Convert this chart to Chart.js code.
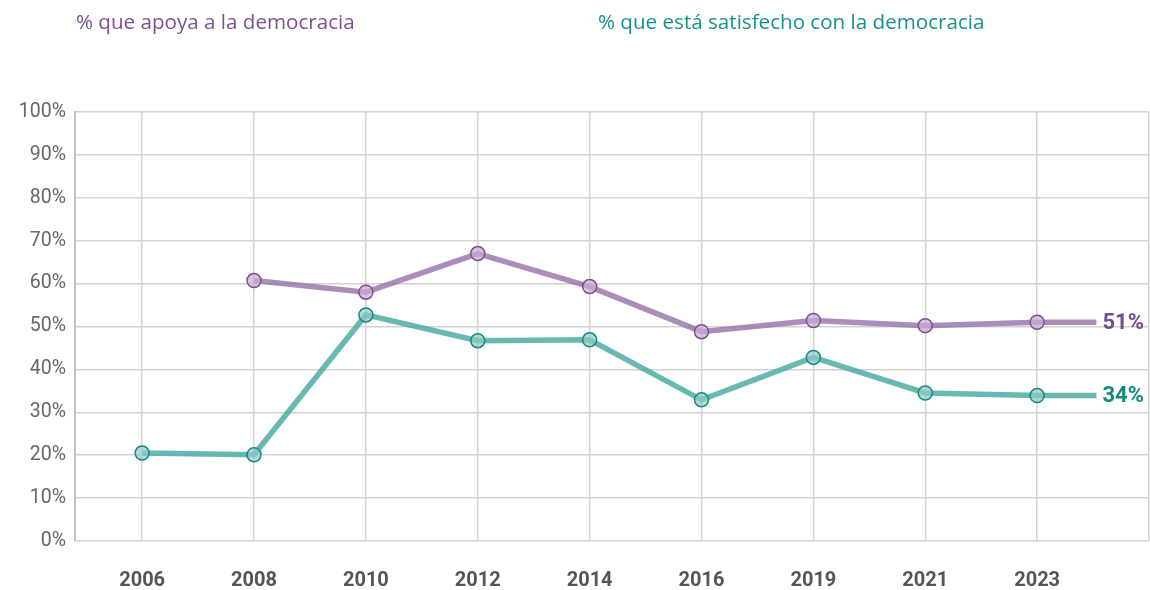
<!DOCTYPE html>
<html>
<head>
<meta charset="utf-8">
<script src="https://cdn.jsdelivr.net/npm/chart.js@4"></script>
<style>
  html, body { margin: 0; padding: 0; background: #fff; }
  #wrap { position: relative; width: 1150px; height: 590px; }
  canvas { position: absolute; left: 0; top: 0; }
  .ttl { position: absolute; top: 7px; font-family: "Open Sans", sans-serif; font-size: 20.6px; white-space: nowrap; }
</style>
</head>
<body>
<div id="wrap">
  <canvas id="c" width="1150" height="590"></canvas>
  <div class="ttl" id="t1" style="left:76px;color:#7d5093;"></div>
  <div class="ttl" id="t2" style="left:598px;color:#17918a;"></div>
</div>
<script>
const years = ['2006','2008','2010','2012','2014','2016','2019','2021','2023'];
const apoya = [null, 60.7, 58.0, 67.0, 59.3, 48.8, 51.4, 50.2, 51.0];
const satisfecho = [20.5, 20.1, 52.7, 46.7, 46.9, 32.9, 42.8, 34.5, 33.9];
const seriesNames = ['% que apoya a la democracia', '% que está satisfecho con la democracia'];
const yTicks = [0,10,20,30,40,50,60,70,80,90,100];

document.getElementById('t1').textContent = seriesNames[0];
document.getElementById('t2').textContent = seriesNames[1];

function toPoints(arr) {
  const pts = arr.map((v, i) => ({x: i, y: v}));
  const last = arr[arr.length - 1];
  pts.push({x: arr.length - 1 + 0.53, y: last, ext: true});
  return pts;
}

const purpleLine = 'rgba(150,112,168,0.8)';
const purpleDark = '#7d4f90';
const tealLine = 'rgba(80,172,165,0.85)';
const tealDark = '#138a82';

const endLabels = {
  id: 'endLabels',
  afterDatasetsDraw(chart) {
    const ctx = chart.ctx;
    const xs = chart.scales.x, ys = chart.scales.y;
    const conf = [
      {data: apoya, color: '#7a4a8c'},
      {data: satisfecho, color: '#12887f'}
    ];
    ctx.save();
    ctx.font = 'bold 22px Roboto';
    ctx.textAlign = 'left';
    ctx.textBaseline = 'middle';
    conf.forEach(c => {
      const v = c.data[c.data.length - 1];
      const x = xs.getPixelForValue(c.data.length - 1 + 0.53) + 6;
      const y = ys.getPixelForValue(v);
      ctx.fillStyle = c.color;
      ctx.fillText(Math.round(v) + '%', x, y + 1);
    });
    ctx.restore();
  }
};

new Chart(document.getElementById('c'), {
  type: 'line',
  data: {
    datasets: [
      {
        label: seriesNames[0],
        data: toPoints(apoya),
        borderColor: purpleLine,
        borderWidth: 5.5,
        pointRadius: ctx => (ctx.raw && ctx.raw.ext) ? 0 : 7,
        pointBackgroundColor: 'rgba(200,175,214,0.7)',
        pointBorderColor: purpleDark,
        pointBorderWidth: 1.5,
        tension: 0,
        spanGaps: false
      },
      {
        label: seriesNames[1],
        data: toPoints(satisfecho),
        borderColor: tealLine,
        borderWidth: 5.5,
        pointRadius: ctx => (ctx.raw && ctx.raw.ext) ? 0 : 7,
        pointBackgroundColor: 'rgba(145,203,198,0.7)',
        pointBorderColor: tealDark,
        pointBorderWidth: 1.5,
        tension: 0
      }
    ]
  },
  options: {
    responsive: false,
    animation: false,
    layout: { autoPadding: false, padding: { top: 112, right: 1, left: 0, bottom: 0 } },
    plugins: { legend: { display: false }, tooltip: { enabled: false } },
    scales: {
      x: {
        type: 'linear',
        min: -0.6,
        max: 9,
        afterBuildTicks: s => { s.ticks = years.map((_, i) => ({value: i})).concat([{value: 9}]); },
        afterFit: s => { s.height = 49; s.paddingLeft = 0; s.paddingRight = 0; },
        ticks: {
          autoSkip: false,
          maxRotation: 0,
          padding: 28,
          color: '#555559',
          font: { family: 'Roboto', size: 20, weight: 'bold' },
          callback: v => years[v] !== undefined ? years[v] : ''
        },
        grid: { color: '#d2d2d2', lineWidth: 1.5, drawTicks: false },
        border: { display: false }
      },
      y: {
        min: 0,
        max: 100,
        afterBuildTicks: s => { s.ticks = yTicks.map(v => ({value: v})); },
        afterFit: s => { s.width = 75; },
        ticks: {
          padding: 9,
          color: '#66666b',
          font: { family: 'Roboto', size: 19.5 },
          callback: v => v + '%'
        },
        grid: { color: '#d2d2d2', lineWidth: 1.5, drawTicks: false },
        border: { display: true, color: '#c4c4c4', width: 2 }
      }
    }
  },
  plugins: [endLabels]
});
</script>
</body>
</html>
